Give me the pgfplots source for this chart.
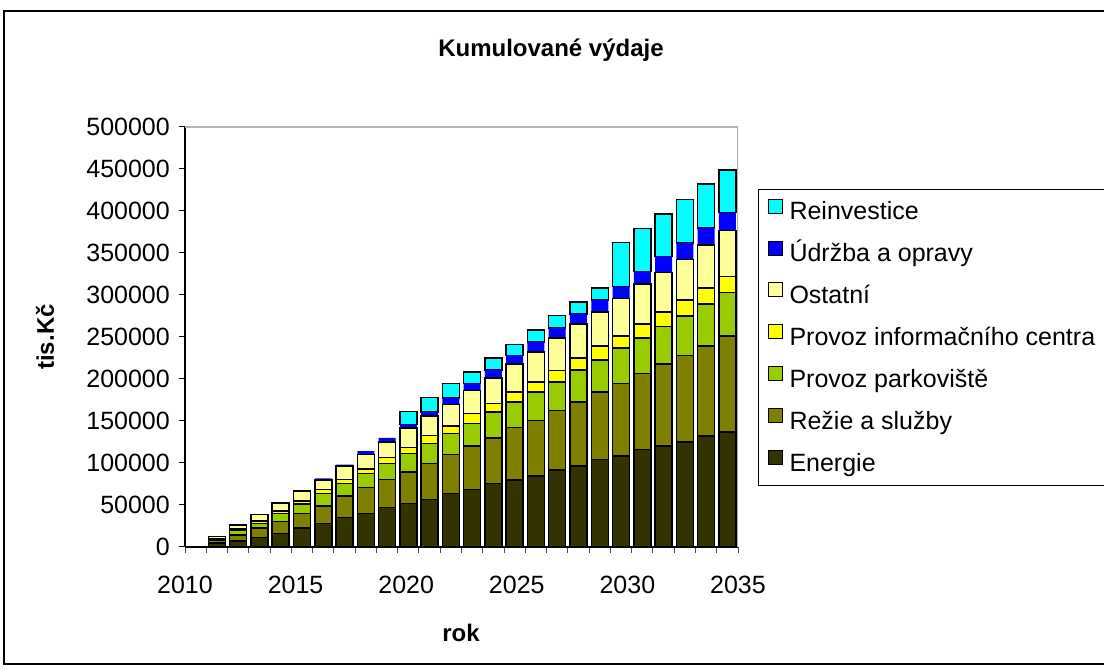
\documentclass[border=0pt]{standalone}
\usepackage{pgfplots}
\pgfplotsset{compat=1.18}
\usepackage{pgfplotstable}
\usepackage{fontspec}
\setmainfont{Liberation Sans}

\definecolor{cE}{HTML}{333300}
\definecolor{cR}{HTML}{808000}
\definecolor{cP}{HTML}{99CC00}
\definecolor{cI}{HTML}{FFFF00}
\definecolor{cO}{HTML}{FFFF99}
\definecolor{cU}{HTML}{0000FF}
\definecolor{cRe}{HTML}{00FFFF}

% x = slot centre (slot 0 = 2010 ... 26 slots to 2035)
\pgfplotstableread{
x    E      R      P      I      O      U      Re
1.5  5000   3000   1500   700    2000   0      0
2.5  7100   7200   5100   2000   4700   0      0
3.5  11500  11400  5200   2800   7900   0      0
4.5  16200  13900  9900   3100   9500   0      0
5.5  22900  17100  11100  3900   11500  0      0
6.5  28100  20900  14800  4700   11100  2000   0
7.5  35300  25600  14700  4800   15800  2000   0
8.5  40000  30900  16600  5100   17800  3600   0
9.5  47100  33300  19000  7100   18600  4700   0
10.5 51900  37500  21900  7100   23300  4400   15400
11.5 56600  42800  23700  9900   22900  4800   17000
12.5 63700  46700  24600  9100   25700  7500   17100
13.5 68500  51800  26600  11900  27700  7900   13800
14.5 75600  54200  30900  10000  30400  9900   13800
15.5 79600  62500  30500  11900  33600  9900   13100
16.5 84300  66500  33700  11800  35700  11800  14700
17.5 91400  71300  33600  13900  38400  11900  15000
18.5 96600  76000  38400  13900  40700  11900  13900
19.5 104100 80400  38400  16200  40400  14600  14300
20.5 108500 85900  42700  13900  45100  13900  52600
21.5 116000 90300  42700  16600  47500  14700  51400
22.5 120300 97800  44400  17000  47500  19000  50300
23.5 125100 102900 46700  19400  48100  19800  51500
24.5 132200 106900 50300  19000  51400  19900  52200
25.5 136900 114100 52200  19000  54300  21700  50400
}\data

\pgfplotsset{
  sq/.style={legend image code/.code={\draw[##1,line width=1pt] (0.5pt,-1pt) rectangle (14.5pt,13pt);}},
}

\begin{document}
\begin{tikzpicture}[x=1pt,y=1pt]
\useasboundingbox (0,0) rectangle (1104,669);
\draw[line width=1.5pt] (4,658) rectangle (1120,5);
\node[font=\fontsize{24}{28}\selectfont\bfseries] at (551,619) {Kumulované výdaje};
\node[font=\fontsize{24}{28}\selectfont\bfseries, rotate=90] at (45,332) {tis.Kč};
\node[font=\fontsize{24}{28}\selectfont\bfseries] at (461,36) {rok};
\begin{axis}[
  at={(185pt,122pt)}, anchor=south west,
  scale only axis, width=553pt, height=420pt,
  xmin=0, xmax=26, ymin=0, ymax=500000,
  ybar stacked, bar width=17pt,
  axis x line*=bottom, axis y line*=left,
  axis line style={black, line width=1.5pt, -},
  xtick={0,1,...,26}, xticklabels={},
  extra x ticks={0,5.2,10.4,15.6,20.8,26},
  extra x tick labels={2010,2015,2020,2025,2030,2035},
  extra x tick style={major tick length=0pt, xticklabel style={anchor=north, inner sep=0pt, yshift=-29pt}},
  ytick={0,50000,...,500000},
  tick align=outside, major tick length=6pt,
  xtick style={gray!60!black, line width=1pt},
  ytick style={black, line width=1pt},
  yticklabel style={anchor=east, inner sep=0pt, xshift=-9pt},
  scaled y ticks=false,
  /pgf/number format/fixed, /pgf/number format/1000 sep={},
  /pgf/number format/assume math mode=true,
  tick label style={font=\fontsize{25}{29}\selectfont},
  reverse legend,
  legend style={at={(1.0362,0.852)}, anchor=north west, draw=black, line width=1pt,
    font=\fontsize{25}{29}\selectfont, inner xsep=9pt, inner ysep=9pt,
    row sep=15.9pt, cells={anchor=west},
    nodes={inner ysep=0pt, inner xsep=7pt, text height=20pt, text depth=5pt}},
  legend cell align=left,
  every axis plot/.append style={draw=black, line width=1.5pt},
]
\addplot[sq, fill=cE]  table[x=x,y=E]  {\data};
\addlegendentry{Energie}
\addplot[sq, fill=cR]  table[x=x,y=R]  {\data};
\addlegendentry{Režie a služby}
\addplot[sq, fill=cP]  table[x=x,y=P]  {\data};
\addlegendentry{Provoz parkoviště}
\addplot[sq, fill=cI]  table[x=x,y=I]  {\data};
\addlegendentry{Provoz informačního centra}
\addplot[sq, fill=cO]  table[x=x,y=O]  {\data};
\addlegendentry{Ostatní}
\addplot[sq, fill=cU, draw=none]  table[x=x,y=U]  {\data};
\addlegendentry{Údržba a opravy}
\addplot[sq, fill=cRe] table[x=x,y=Re] {\data};
\addlegendentry{Reinvestice}
\draw[gray!60, line width=1.5pt] (rel axis cs:0,1) -- (rel axis cs:1,1) -- (rel axis cs:1,0);
\end{axis}
\end{tikzpicture}
\end{document}
